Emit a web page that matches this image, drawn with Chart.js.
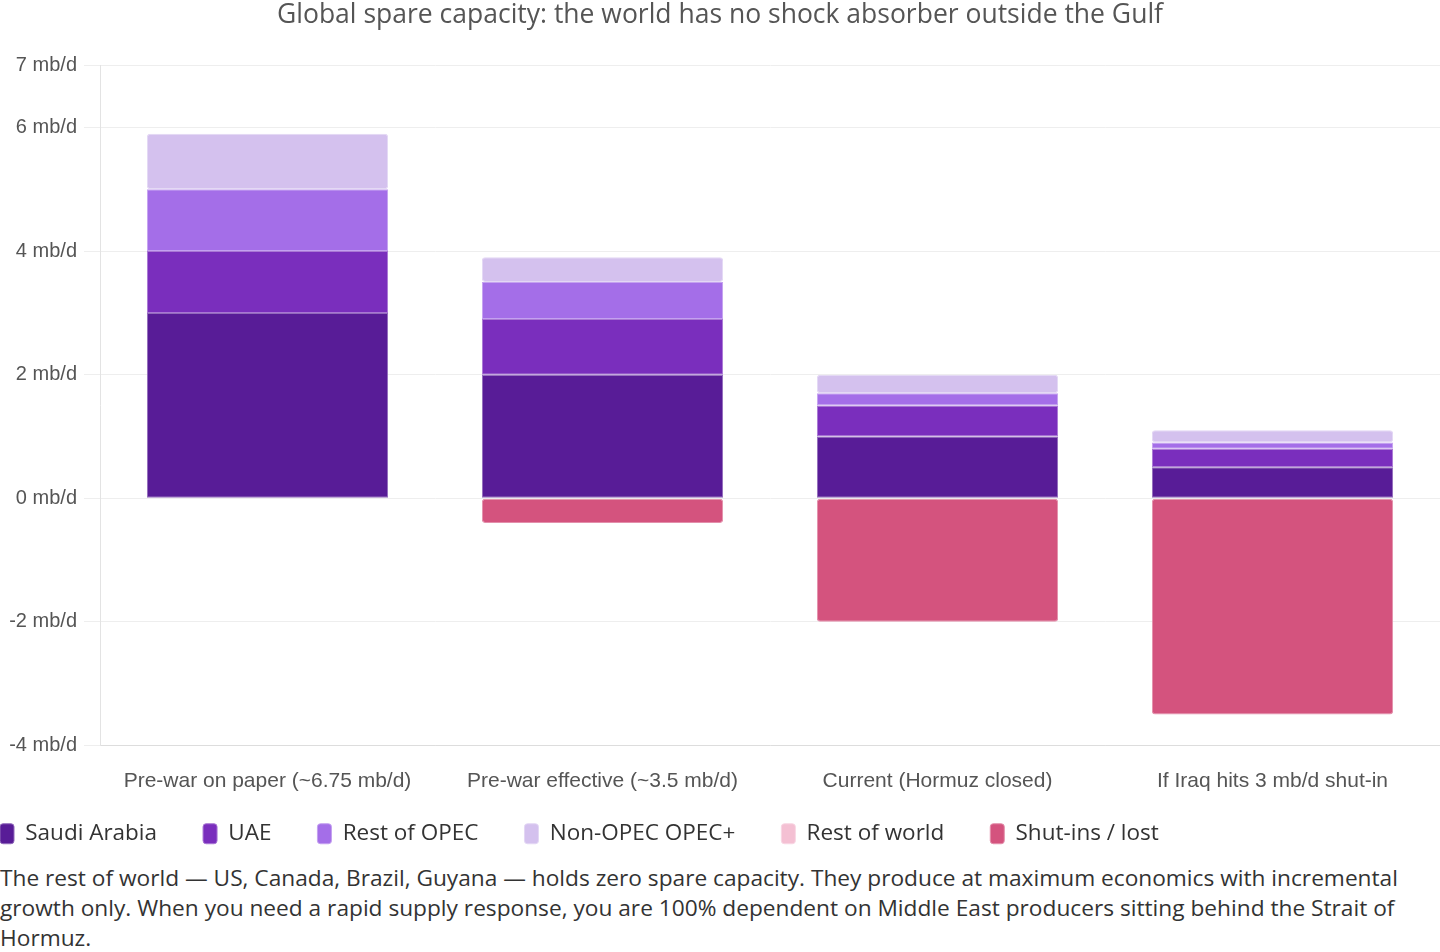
<!DOCTYPE html>
<html>
<head>
<meta charset="utf-8">
<title>Global spare capacity</title>
<script src="https://cdn.jsdelivr.net/npm/chart.js@4"></script>
<style>
    html, body { margin: 0; padding: 0; background: #fff; }
    #wrap { position: relative; width: 1440px; height: 887px; }
    #note {
        margin: -24px 0 0 0;
        font-family: "Open Sans", sans-serif;
        font-size: 22.7px;
        line-height: 30px;
        color: #333;
        width: 1440px;
    }
</style>
</head>
<body>
<div id="wrap"><canvas id="spareChart"></canvas></div>
<p id="note">The rest of world — US, Canada, Brazil, Guyana — holds zero spare capacity. They produce at maximum economics with incremental growth only. When you need a rapid supply response, you are 100% dependent on Middle East producers sitting behind the Strait of Hormuz.</p>

<script>
const scenarios = [
    "Pre-war on paper (~6.75 mb/d)",
    "Pre-war effective (~3.5 mb/d)",
    "Current (Hormuz closed)",
    "If Iraq hits 3 mb/d shut-in"
];

// mb/d of spare capacity per scenario
const saudiArabia = [3.0, 2.0, 1.0, 0.5];
const uae = [1.0, 0.9, 0.5, 0.3];
const restOfOpec = [1.0, 0.6, 0.2, 0.1];
const nonOpecPlus = [0.9, 0.4, 0.3, 0.2];
const restOfWorld = [0, 0, 0, 0];
const shutIns = [0, -0.4, -2.0, -3.5];

const yTicks = [-4, -2, 0, 2, 4, 6, 7];

const textFont = "'Open Sans', sans-serif";
const tickFont = "'Liberation Sans', Arial, sans-serif";

const LEGEND_PAD = 46;

function makeSet(label, data, color, edge) {
    return {
        label: label,
        data: data,
        backgroundColor: color,
        borderColor: edge,
        borderWidth: 1,
        borderRadius: 3,
        borderSkipped: false
    };
}

// pull the legend flush left and up (its padding also sets the item gaps)
const legendNudge = {
    id: "legendNudge",
    afterLayout(chart) {
        chart.legend.left -= LEGEND_PAD;
        chart.legend.top -= 32;
    }
};

const ctx = document.getElementById("spareChart").getContext("2d");
new Chart(ctx, {
    type: "bar",
    data: {
        labels: scenarios,
        datasets: [
            makeSet("Saudi Arabia", saudiArabia, "#581c97", "#926bbb"),
            makeSet("UAE", uae, "#7a2ebd", "#a977d4"),
            makeSet("Rest of OPEC", restOfOpec, "#a46ee8", "#c4a1f0"),
            makeSet("Non-OPEC OPEC+", nonOpecPlus, "#d4c1ee", "#e3d7f4"),
            makeSet("Rest of world", restOfWorld, "#f4c0d3", "#f8d6e3"),
            makeSet("Shut-ins / lost", shutIns, "#d4537e", "#e38fab")
        ]
    },
    plugins: [legendNudge],
    options: {
        responsive: true,
        maintainAspectRatio: false,
        animation: false,
        layout: { padding: 0 },
        plugins: {
            title: {
                display: true,
                text: "Global spare capacity: the world has no shock absorber outside the Gulf",
                color: "#555",
                font: { family: textFont, size: 26.5, weight: "normal" },
                padding: { top: 0, bottom: 34 }
            },
            legend: {
                position: "bottom",
                align: "start",
                labels: {
                    color: "#333",
                    font: { family: textFont, size: 22.5 },
                    boxWidth: 14,
                    boxHeight: 20,
                    padding: LEGEND_PAD,
                    useBorderRadius: true,
                    borderRadius: 3
                }
            },
            tooltip: { enabled: false }
        },
        scales: {
            x: {
                stacked: true,
                grid: { display: false },
                border: { color: "#ddd" },
                ticks: {
                    color: "#555",
                    font: { family: tickFont, size: 21 },
                    padding: 15
                }
            },
            y: {
                stacked: true,
                min: -4,
                max: 7,
                afterBuildTicks: axis => {
                    axis.ticks = yTicks.map(v => ({ value: v }));
                },
                afterFit: axis => {
                    axis.width = 100;
                },
                grid: { color: "#eee", tickLength: 16 },
                border: { color: "#e3e3e3" },
                ticks: {
                    color: "#555",
                    font: { family: tickFont, size: 20 },
                    padding: 7,
                    callback: v => v + " mb/d"
                }
            }
        }
    }
});
</script>
</body>
</html>
